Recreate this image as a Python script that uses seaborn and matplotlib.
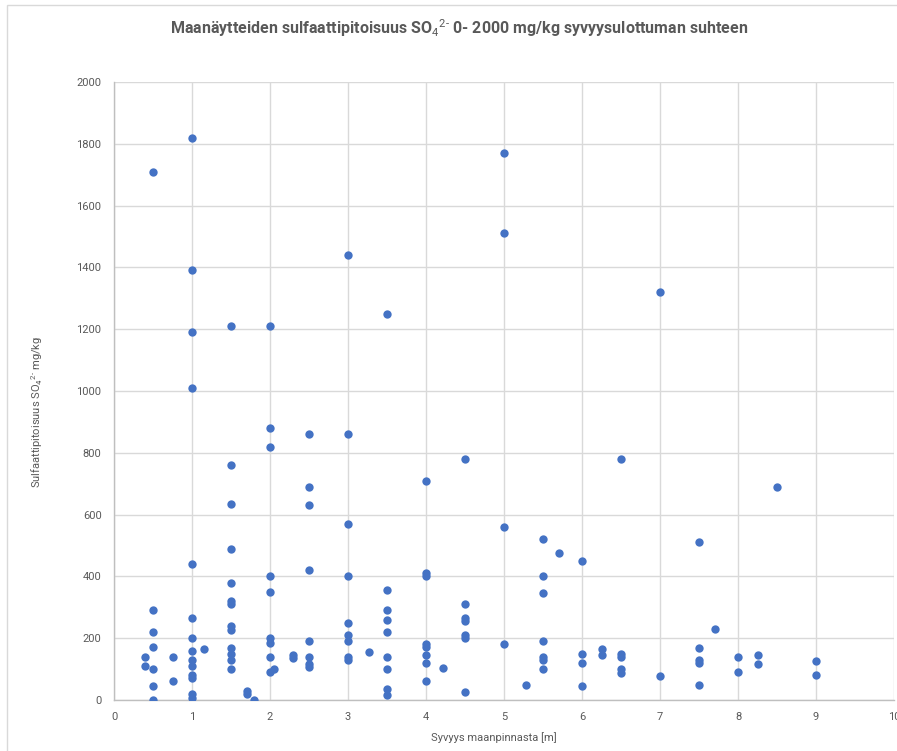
import matplotlib
matplotlib.use("Agg")
import matplotlib.pyplot as plt
from matplotlib.patches import Rectangle
from matplotlib.ticker import MultipleLocator
import seaborn as sns
import pandas as pd

# Sample depth below ground surface [m]
depth_m = [
    0.4, 0.4,
    0.5, 0.5, 0.5, 0.5, 0.5, 0.5, 0.5,
    0.75, 0.75,
    1, 1, 1, 1, 1, 1, 1, 1, 1, 1, 1, 1, 1, 1,
    1.15,
    1.5, 1.5, 1.5, 1.5, 1.5, 1.5, 1.5, 1.5, 1.5, 1.5, 1.5, 1.5, 1.5,
    1.7, 1.7,
    1.8,
    2, 2, 2, 2, 2, 2, 2, 2, 2,
    2.05,
    2.3, 2.3,
    2.5, 2.5, 2.5, 2.5, 2.5, 2.5, 2.5, 2.5,
    3, 3, 3, 3, 3, 3, 3, 3, 3,
    3.27,
    3.5, 3.5, 3.5, 3.5, 3.5, 3.5, 3.5, 3.5, 3.5,
    4, 4, 4, 4, 4, 4, 4, 4,
    4.22,
    4.5, 4.5, 4.5, 4.5, 4.5, 4.5, 4.5,
    5, 5, 5, 5,
    5.28,
    5.5, 5.5, 5.5, 5.5, 5.5, 5.5, 5.5,
    5.7,
    6, 6, 6, 6,
    6.25, 6.25,
    6.5, 6.5, 6.5, 6.5, 6.5,
    7, 7,
    7.5, 7.5, 7.5, 7.5, 7.5,
    7.7,
    8, 8,
    8.25, 8.25,
    8.5,
    9, 9,
]

# Sulfate content SO4 2- [mg/kg]
sulfate_mgkg = [
    140, 110,
    1710, 290, 220, 170, 100, 45, 0,
    140, 60,
    1820, 1390, 1190, 1010, 440, 265, 200, 160, 130, 110, 80, 70, 20, 5,
    165,
    1210, 760, 635, 490, 380, 320, 310, 240, 225, 167, 150, 130, 100,
    30, 20,
    0,
    1210, 880, 820, 400, 350, 200, 185, 140, 90,
    100,
    145, 135,
    860, 690, 630, 420, 190, 140, 115, 108,
    1440, 860, 570, 400, 250, 210, 190, 140, 130,
    155,
    1250, 355, 290, 260, 220, 140, 100, 35, 15,
    710, 410, 400, 180, 170, 145, 120, 60,
    105,
    780, 310, 265, 255, 210, 200, 26,
    1770, 1510, 560, 180,
    50,
    520, 400, 345, 190, 140, 130, 100,
    475,
    450, 150, 120, 45,
    165, 145,
    780, 150, 140, 100, 88,
    1320, 77,
    510, 167, 130, 120, 50,
    230,
    140, 92,
    145, 118,
    690,
    125, 82,
]

x_ticks = list(range(0, 11))
y_ticks = list(range(0, 2001, 200))

title_text = "Maanäytteiden sulfaattipitoisuus SO$_4$$^{2\u2011}$ 0- 2000 mg/kg syvyysulottuman suhteen"
xlabel_text = "Syvyys maanpinnasta [m]"
ylabel_text = "Sulfaattipitoisuus SO$_4$$^{2\u2011}$ mg/kg"

df = pd.DataFrame({"depth": depth_m, "sulfate": sulfate_mgkg})

sns.set_theme(style="white")
base_font = "Roboto"
plt.rcParams["font.family"] = [base_font, "DejaVu Sans"]
plt.rcParams["mathtext.fontset"] = "custom"
plt.rcParams["mathtext.rm"] = base_font
plt.rcParams["mathtext.it"] = base_font
plt.rcParams["mathtext.bf"] = base_font + ":bold"

W, H = 897, 751
fig = plt.figure(figsize=(W / 100, H / 100), dpi=100)
fig.patch.set_facecolor("white")

# plot area in pixels
left_px, right_px, top_px, bottom_px = 114, 894, 82, 700
ax = fig.add_axes([left_px / W, 1 - bottom_px / H,
                   (right_px - left_px) / W, (bottom_px - top_px) / H])

sns.scatterplot(data=df, x="depth", y="sulfate", ax=ax, color="#4472C4",
                s=36, linewidth=0, zorder=3, legend=False)

ax.set_xlim(0, 10)
ax.set_ylim(0, 2000)
ax.set_xticks(x_ticks)
ax.set_yticks(y_ticks)
ax.xaxis.set_minor_locator(MultipleLocator(0.2))
ax.yaxis.set_minor_locator(MultipleLocator(40))

grid_c = "#d9d9d9"
text_c = "#595959"
ax.grid(True, which="major", color=grid_c, linewidth=1.0, zorder=0)
for side in ("top", "right"):
    ax.spines[side].set_visible(False)
for side in ("left", "bottom"):
    ax.spines[side].set_color("#bfbfbf")
    ax.spines[side].set_linewidth(1.0)

ax.tick_params(which="major", length=0, labelsize=8, colors=text_c, pad=9)
ax.tick_params(which="minor", direction="in", length=3.5, width=0.8, color="#bfbfbf")

ax.set_xlabel(xlabel_text, fontsize=8, color=text_c)
ax.set_ylabel(ylabel_text, fontsize=8, color=text_c)
ax.xaxis.set_label_coords(0.487, -0.052)
ax.yaxis.set_label_coords(-0.088, 0.466)

fig.text(459 / W, 1 - 28 / H, title_text, ha="center", va="center",
         fontsize=11.5, color=text_c, fontweight="bold")

# light chart frame
fig.patches.append(Rectangle((7 / W, -0.01), 1.0, 1 - 5 / H + 0.01,
                             transform=fig.transFigure, fill=False,
                             edgecolor="#d9d9d9", linewidth=1.0))

fig.savefig("out.png", dpi=100, facecolor="white")
